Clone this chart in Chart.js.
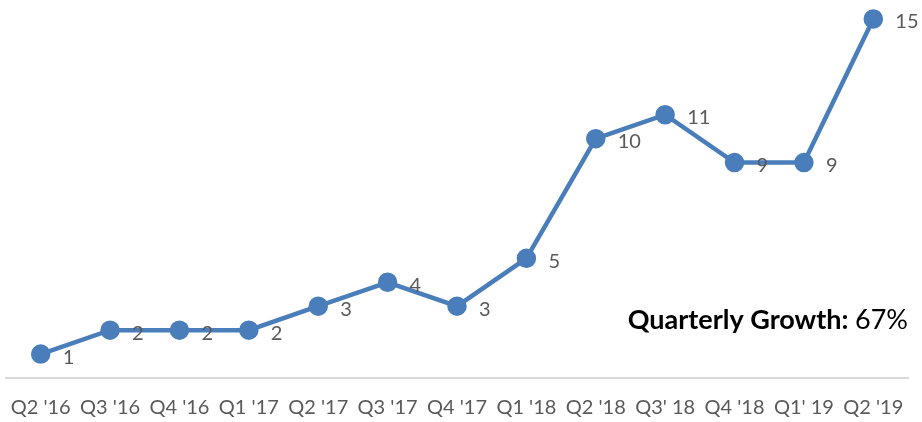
<!DOCTYPE html>
<html>
<head>
<meta charset="utf-8">
<script src="https://cdn.jsdelivr.net/npm/chart.js@4/dist/chart.umd.min.js"></script>
<style>
html,body{margin:0;padding:0;background:#fff;}
#wrap{width:922px;height:422px;position:relative;}
</style>
</head>
<body>
<div id="wrap"><canvas id="c" width="922" height="422"></canvas></div>
<script>
const categories = ["Q2 '16","Q3 '16","Q4 '16","Q1 '17","Q2 '17","Q3 '17","Q4 '17","Q1 '18","Q2 '18","Q3' 18","Q4 '18","Q1' 19","Q2 '19"];
const values = [1,2,2,2,3,4,3,5,10,11,9,9,15];
const growthLabel = "Quarterly Growth:";
const growthValue = "67%";

const FONT = "Lato, 'Open Sans', sans-serif";
const lineColor = "#4a7ebb";
const textColor = "#595959";

const labelPlugin = {
  id: 'pointLabels',
  afterDatasetsDraw(chart) {
    const ctx = chart.ctx;
    const meta = chart.getDatasetMeta(0);
    ctx.save();
    ctx.font = "20px " + FONT;
    ctx.fillStyle = textColor;
    ctx.textAlign = 'left';
    ctx.textBaseline = 'middle';
    meta.data.forEach((pt, i) => {
      ctx.fillText(String(values[i]), pt.x + 22, pt.y + 3);
    });
    const area = chart.chartArea;
    ctx.textBaseline = 'alphabetic';
    ctx.textAlign = 'right';
    ctx.fillStyle = '#000';
    ctx.font = "27px " + FONT;
    const vw = ctx.measureText(growthValue).width;
    const xr = area.right;
    const yb = 329;
    ctx.fillText(growthValue, xr, yb);
    ctx.font = "bold 27px " + FONT;
    ctx.fillText(growthLabel + " ", xr - vw, yb);
    ctx.restore();
  }
};

new Chart(document.getElementById('c'), {
  type: 'line',
  data: {
    labels: categories,
    datasets: [{
      data: values,
      borderColor: lineColor,
      backgroundColor: lineColor,
      pointBackgroundColor: lineColor,
      pointBorderColor: lineColor,
      borderWidth: 4.5,
      pointRadius: 7.5,
      tension: 0,
      clip: false
    }]
  },
  options: {
    responsive: false,
    animation: false,
    devicePixelRatio: 1,
    layout: { autoPadding: false, padding: { left: 6, right: 14, top: 19, bottom: 0 } },
    plugins: { legend: { display: false }, tooltip: { enabled: false } },
    scales: {
      x: {
        offset: true,
        grid: { display: false, drawTicks: false },
        border: { display: true, color: '#d9d9d9', width: 2 },
        ticks: { color: textColor, font: { family: FONT, size: 20 }, padding: 18, maxRotation: 0, autoSkip: false },
        afterFit(scale) { scale.height = 44; scale.paddingLeft = 0; scale.paddingRight = 0; }
      },
      y: {
        display: false,
        min: 0,
        max: 15
      }
    }
  },
  plugins: [labelPlugin]
});
</script>
</body>
</html>
